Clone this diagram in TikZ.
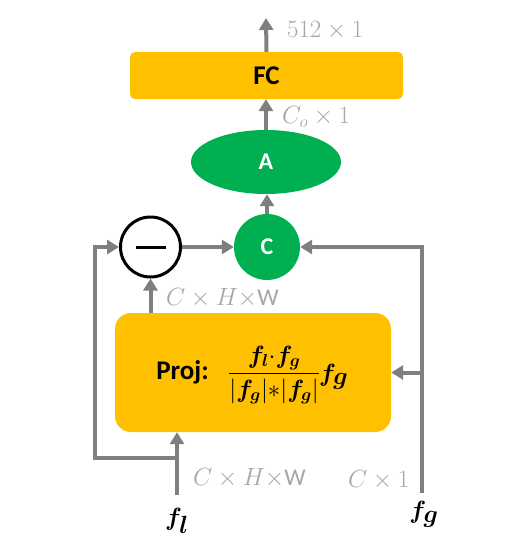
\documentclass[tikz,border=0pt]{standalone}
\usepackage{amsmath,bm}
\usepackage{fontspec}
\newfontfamily\calfont{Carlito}
\usetikzlibrary{arrows.meta,shapes.geometric}
\definecolor{orng}{HTML}{FFC000}
\definecolor{grn}{HTML}{00B050}
\definecolor{lgray}{HTML}{7F7F7F}
\definecolor{tgray}{HTML}{A6A6A6}
\tikzset{
  conn/.style={draw=lgray,line width=4pt,-{Triangle[length=12pt,width=14pt]}},
  fcbox/.style={fill=orng,rounded corners=5pt,minimum width=273pt,minimum height=47pt,font=\calfont\bfseries\fontsize{27}{30}\selectfont,inner sep=0},
  projbox/.style={fill=orng,rounded corners=16pt,minimum width=276pt,minimum height=119pt,inner sep=0},
  ell/.style={ellipse,fill=grn,minimum width=150pt,minimum height=64pt,text=white,font=\calfont\bfseries\fontsize{24}{28}\selectfont,inner sep=0},
  grc/.style={circle,fill=grn,minimum size=66pt,text=white,font=\calfont\bfseries\fontsize{24}{28}\selectfont,inner sep=0},
  minusc/.style={circle,draw=black,fill=white,line width=3pt,minimum size=60pt,inner sep=0},
  glabel/.style={text=tgray,font=\fontsize{24}{28}\selectfont,anchor=west,inner sep=0},
  flabel/.style={font=\fontsize{40}{44}\selectfont,inner sep=0}
}
\begin{document}
\begin{tikzpicture}[x=1pt,y=-1pt]
\useasboundingbox (0,0) rectangle (523,544);
\node[fcbox] (fc) at (266.5,75.5) {FC};
\node[ell] (A) at (266,162) {A};
\node[grc] (C) at (267,247) {C};
\node[minusc] (m) at (150.5,247) {};
\draw[line width=3pt] ([xshift=-15pt]m.center) -- ([xshift=15pt]m.center);
\node[projbox] (proj) at (253,372.5) {};
\node[anchor=east,font=\calfont\bfseries\fontsize{27}{30}\selectfont,inner sep=0] (projl) at (209,372) {Proj:};
\node[anchor=west,font=\fontsize{23}{27}\selectfont,inner sep=0] (projfr) at (228,375)
  {$\dfrac{\bm{f}_{\bm{l}}{\cdot}\bm{f}_{\bm{g}}}{|\bm{f}_{\bm{g}}|{*}|\bm{f}_{\bm{g}}|}$};
\node[anchor=base west,font=\fontsize{33}{36}\selectfont,inner sep=0] (projfg) at (319,381) {$\bm{f}_{\bm{g}}$};
\coordinate (top) at (266,18);
\coordinate (fl) at (177,495);
\coordinate (fg) at (422,493);
\coordinate (brl) at (177,458);
\coordinate (lft) at (95,458);
% connectors
\draw[conn] (fc.north) -- (top);
\draw[conn] (A.north) -- (fc.south -| A.north);
\draw[conn] (C.north) -- (A.south -| C.north);
\draw[conn] (m.east) -- (C.west);
\draw[conn] (proj.north -| m.south) -- (m.south);
\draw[conn] (fl) -- (proj.south -| fl);
\draw[conn] (brl) -- (lft) |- (m.west);
\draw[conn] (fg) |- (C.east);
\draw[conn] (fg |- proj.east) -- (proj.east);
% labels
\node[glabel] (l1) at (287,31) {$512\times1$};
\node[glabel] (l2) at (282,117) {$C_o\times1$};
\node[glabel] (l3) at (166,298) {$C\times H\times$\calfont W};
\node[glabel] (l4) at (193,478) {$C\times H\times$\calfont W};
\node[glabel] (l5) at (348,480) {$C\times1$};
\node[flabel] (fln) at (177,521) {$\bm{f}_{\bm{l}}$};
\node[flabel] (fgn) at (424,514) {$\bm{f}_{\bm{g}}$};
\end{tikzpicture}
\end{document}
